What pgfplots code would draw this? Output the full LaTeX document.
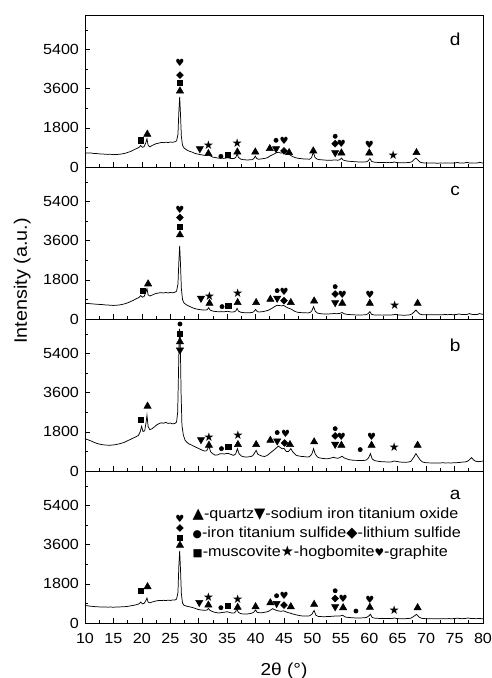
\documentclass[border=0pt]{standalone}
\usepackage{fontspec}
\setmainfont{Liberation Sans}[FakeStretch=1.1]
\newfontfamily\sym{DejaVu Sans}
\usepackage{pgfplots}
\pgfplotsset{compat=1.18}

\pgfplotsset{
  panel/.style={
    scale only axis, width=298.5pt, height=114pt,
    xmin=10, xmax=80, ymin=0, ymax=7000,
    xtick={10,15,...,80}, minor xtick={12.5,17.5,...,77.5},
    ytick={0,1800,3600,5400}, minor ytick={900,2700,4500,6300},
    tick align=inside, xtick pos=bottom, ytick pos=left,
    major tick length=4pt, minor tick length=2.5pt,
    every tick/.style={black, line width=0.5pt},
    axis line style={line width=0.6pt},
    /pgf/number format/assume math mode=true,
    /pgf/number format/1000 sep={},
    scaled y ticks=false,
    tick label style={font=\fontsize{11}{13}\selectfont},
    yticklabel style={xshift=-1pt},
    clip=false,
  },
  xrd/.style={black, line width=0.55pt, mark=none},
  qz/.style={only marks, black, mark=triangle*, mark size=3.1pt},
  so/.style={only marks, black, mark=triangle*, mark size=3.1pt, mark options={rotate=180}},
  fe/.style={only marks, black, mark=*, mark size=1.6pt},
  li/.style={only marks, black, mark=square*, mark size=1.8pt, mark options={rotate=45}},
  mu/.style={only marks, black, mark=square*, mark size=1.9pt},
  hg/.style={only marks, black, mark=text, text mark={\sym\fontsize{9}{9}\selectfont ★}},
  gr/.style={only marks, black, mark=text, text mark={\sym\fontsize{7.5}{7.5}\selectfont ♥}},
}

\begin{document}
\begin{tikzpicture}
\useasboundingbox (-63.75pt,-41.25pt) rectangle (305.25pt,467.25pt);

% ---------------- panel a ----------------
\begin{axis}[panel, at={(0pt,0pt)}, xticklabel style={yshift=-4pt}]
\addplot[xrd] coordinates {
(10,810)(10.5,790)(11,772)(11.5,760)(12,748)(12.5,742)(13,738)(13.5,735)(14,730)(14.5,734)
(15,728)(15.5,735)(16,740)(16.5,745)(17,752)(17.5,765)(18,790)(18.5,810)(19,840)(19.5,880)
(19.8,965)(20.1,880)(20.4,905)(20.7,1030)(20.9,1150)(21.1,960)(21.4,930)(21.8,965)(22.2,995)
(22.6,1020)(23,1040)(23.4,1030)(23.8,1045)(24.2,1035)(24.6,1050)(25,1040)(25.4,1060)(25.8,1055)
(26.1,1100)(26.35,1400)(26.5,2600)(26.65,3320)(26.8,2450)(26.95,1350)(27.15,920)(27.4,820)
(27.7,790)(28,765)(28.4,745)(28.8,720)(29.2,690)(29.6,650)(30,620)(30.4,600)(30.8,590)
(31.2,585)(31.5,600)(31.7,670)(31.95,590)(32.3,540)(32.7,500)(33.1,480)(33.5,460)(33.9,475)
(34.3,490)(34.7,505)(35,520)(35.4,490)(35.8,460)(36.2,460)(36.5,520)(36.7,670)(36.95,500)
(37.3,440)(37.7,420)(38.1,410)(38.5,415)(38.9,430)(39.3,450)(39.7,500)(40,600)(40.3,490)
(40.7,470)(41.1,470)(41.5,490)(41.9,510)(42.3,540)(42.7,610)(43,660)(43.3,620)(43.7,580)
(44.1,550)(44.5,540)(44.9,560)(45.3,520)(45.7,480)(46.1,455)(46.5,420)(47,385)(47.5,355)
(48,330)(48.5,322)(49,320)(49.5,330)(49.9,400)(50.3,580)(50.6,360)(51,305)(51.5,295)(52,290)
(52.5,295)(53,300)(53.5,310)(54,320)(54.5,318)(55,330)(55.3,360)(55.7,285)(56.1,262)(56.6,250)
(57.1,240)(57.6,232)(58.1,230)(58.6,235)(59.1,240)(59.5,255)(59.9,320)(60.2,400)(60.5,260)
(60.9,225)(61.4,215)(61.9,210)(62.4,212)(62.9,205)(63.4,210)(63.9,200)(64.4,230)(64.8,205)
(65.3,200)(65.8,198)(66.3,200)(66.8,205)(67.3,220)(67.8,300)(68.3,400)(68.7,285)(69.1,225)
(69.5,205)(70,200)(70.5,198)(71,202)(71.5,198)(72,200)(72.5,196)(73,202)(73.5,198)(74,203)
(74.5,199)(75,205)(75.5,225)(75.9,205)(76.4,200)(76.9,210)(77.4,230)(77.8,210)(78.3,205)
(78.8,200)(79.3,205)(79.8,200)(80,200)};
\addplot[qz] coordinates {(21.0,1670)(26.7,3580)(31.7,826)(36.85,720)(40.0,750)(42.6,933)(46.2,750)(50.3,857)(55.4,705)(60.1,720)(68.5,705)};
\addplot[mu] coordinates {(19.85,1470)(26.7,3920)(35.1,780)};
\addplot[li] coordinates {(26.7,4375)(45.0,826)(54.0,1130)};
\addplot[gr] coordinates {(26.7,4800)(45.0,1255)(55.4,1130)(60.1,1055)};
\addplot[so] coordinates {(30.1,950)(43.7,900)(54.0,750)};
\addplot[fe] coordinates {(33.9,705)(43.7,1255)(54.0,1485)(57.65,550)};
\addplot[hg] coordinates {(31.7,1180)(36.85,1100)(64.4,600)};
\node[font=\fontsize{13}{15}\selectfont] at (rel axis cs:0.93,0.84) {a};
\node[anchor=west, inner sep=0pt, font=\fontsize{11}{13}\selectfont] at (rel axis cs:0.27,0.71)
  {{\sym ▲}-quartz{\sym ▼}-sodium iron titanium oxide};
\node[anchor=west, inner sep=0pt, font=\fontsize{11}{13}\selectfont] at (rel axis cs:0.27,0.59)
  {{\sym\fontsize{8}{8}\selectfont ●}-iron titanium sulfide{\sym ◆}-lithium sulfide};
\node[anchor=west, inner sep=0pt, font=\fontsize{11}{13}\selectfont] at (rel axis cs:0.27,0.46)
  {{\sym\fontsize{8}{8}\selectfont ■}-muscovite{\sym ★}-hogbomite{\sym\fontsize{8}{8}\selectfont ♥}-graphite};
\end{axis}

% ---------------- panel b ----------------
\begin{axis}[panel, at={(0pt,114pt)}, xticklabels={}]
\addplot[xrd] coordinates {
(10,1490)(10.5,1440)(11,1390)(11.5,1330)(12,1280)(12.5,1240)(13,1215)(13.5,1195)(14,1190)
(14.5,1188)(15,1200)(15.5,1220)(16,1250)(16.5,1285)(17,1330)(17.5,1395)(18,1455)(18.5,1520)
(19,1580)(19.4,1640)(19.7,1800)(19.95,2060)(20.2,1820)(20.5,1850)(20.75,2250)(20.9,2570)
(21.1,2050)(21.4,1900)(21.8,1950)(22.2,2030)(22.6,2120)(23,2180)(23.4,2220)(23.8,2200)
(24.2,2240)(24.6,2190)(25,2210)(25.4,2170)(25.8,2190)(26.1,2250)(26.3,2700)(26.45,4600)
(26.6,6550)(26.75,6100)(26.9,3600)(27.05,2100)(27.3,1650)(27.6,1420)(27.9,1330)(28.2,1260)
(28.6,1210)(29,1160)(29.4,1110)(29.8,1060)(30.2,1010)(30.6,960)(31,920)(31.4,930)(31.8,1140)
(32.1,880)(32.5,790)(32.9,730)(33.3,740)(33.7,790)(34.1,800)(34.5,780)(34.9,810)(35.3,800)
(35.7,760)(36.1,720)(36.5,780)(36.8,1030)(37.1,790)(37.5,690)(37.9,655)(38.3,645)(38.7,650)
(39.1,665)(39.5,700)(39.8,820)(40.1,950)(40.4,770)(40.8,720)(41.2,680)(41.6,670)(42,710)
(42.4,790)(42.8,880)(43.2,960)(43.6,1050)(44,1150)(44.3,1090)(44.7,1020)(45,1040)(45.4,900)
(45.8,900)(46.2,1030)(46.6,860)(47.1,730)(47.6,690)(48.1,670)(48.6,660)(49.1,645)(49.5,660)
(49.9,780)(50.2,1030)(50.5,780)(50.9,640)(51.3,600)(51.8,580)(52.3,565)(52.8,570)(53.3,600)
(53.7,630)(54.1,600)(54.5,585)(54.9,630)(55.2,680)(55.6,600)(56,560)(56.5,520)(57,500)
(57.5,490)(58,488)(58.5,482)(59,480)(59.5,510)(59.9,620)(60.2,800)(60.5,560)(60.9,480)
(61.4,455)(61.9,435)(62.4,425)(62.9,420)(63.4,412)(63.9,420)(64.4,460)(64.8,440)(65.3,415)
(65.8,405)(66.3,400)(66.8,410)(67.3,440)(67.8,620)(68.2,800)(68.6,640)(69,490)(69.4,410)
(69.9,385)(70.4,375)(70.9,372)(71.4,368)(71.9,372)(72.4,370)(72.9,378)(73.4,372)(73.9,375)
(74.4,370)(74.9,380)(75.4,385)(75.9,395)(76.4,410)(76.9,420)(77.3,450)(77.7,540)(78,615)
(78.3,520)(78.7,450)(79.2,430)(79.7,445)(80,460)};
\addplot[qz] coordinates {(21.0,2985)(26.7,5950)(31.8,1185)(36.9,1215)(40.1,1215)(42.6,1415)(46.05,1215)(50.3,1340)(55.1,1185)(60.4,1185)(68.5,1185)};
\addplot[mu] coordinates {(19.85,2340)(26.7,6305)(35.2,1107)};
\addplot[li] coordinates {(45.1,1290)(54.0,1615)};
\addplot[gr] coordinates {(45.3,1720)(55.1,1570)(60.4,1570)};
\addplot[so] coordinates {(26.7,5570)(30.4,1445)(43.8,1385)(54.0,1230)};
\addplot[fe] coordinates {(26.7,6770)(34.0,1030)(43.8,1770)(54.0,1950)(58.4,985)};
\addplot[hg] coordinates {(31.8,1570)(36.9,1660)(64.4,1077)};
\node[font=\fontsize{13}{15}\selectfont] at (rel axis cs:0.93,0.83) {b};
\end{axis}

% ---------------- panel c ----------------
\begin{axis}[panel, at={(0pt,228pt)}, xticklabels={}]
\addplot[xrd] coordinates {
(10,720)(10.5,712)(11,705)(11.5,690)(12,682)(12.5,672)(13,665)(13.5,650)(14,645)(14.5,632)
(15,625)(15.5,632)(16,645)(16.5,668)(17,700)(17.5,745)(18,800)(18.5,860)(19,930)(19.5,990)
(19.8,1080)(20.1,1005)(20.4,1040)(20.7,1230)(20.9,1400)(21.1,1110)(21.4,1060)(21.8,1100)
(22.2,1150)(22.6,1180)(23,1200)(23.4,1215)(23.8,1195)(24.2,1220)(24.6,1200)(25,1225)
(25.4,1205)(25.8,1230)(26.1,1280)(26.35,1600)(26.5,2600)(26.65,3370)(26.8,2500)(26.95,1400)
(27.15,900)(27.4,740)(27.7,680)(28,630)(28.4,580)(28.8,530)(29.2,490)(29.6,460)(30,440)
(30.4,425)(30.8,415)(31.2,410)(31.5,430)(31.75,520)(32,410)(32.4,370)(32.8,350)(33.2,340)
(33.6,335)(34,340)(34.4,330)(34.8,345)(35.1,355)(35.5,330)(35.9,320)(36.3,335)(36.55,380)
(36.75,490)(37,360)(37.4,310)(37.8,295)(38.2,290)(38.6,285)(39,290)(39.4,300)(39.7,340)
(40,440)(40.3,340)(40.6,325)(41,330)(41.4,345)(41.8,370)(42.2,400)(42.6,450)(43,510)(43.4,580)
(43.8,630)(44.2,620)(44.6,600)(44.9,630)(45.2,580)(45.6,520)(46,480)(46.3,450)(46.7,380)
(47.2,320)(47.7,300)(48.2,290)(48.7,285)(49.2,280)(49.6,300)(49.9,380)(50.2,570)(50.5,360)
(50.9,270)(51.3,250)(51.8,235)(52.3,230)(52.8,232)(53.3,240)(53.8,250)(54.3,245)(54.8,255)
(55.2,300)(55.6,240)(56,215)(56.5,205)(57,195)(57.5,190)(58,185)(58.5,188)(59,190)(59.5,200)
(59.85,260)(60.1,340)(60.4,215)(60.8,190)(61.3,182)(61.8,180)(62.3,178)(62.8,185)(63.3,180)
(63.8,182)(64.3,200)(64.6,215)(65,190)(65.5,180)(66,175)(66.5,178)(67,185)(67.5,230)
(67.9,330)(68.2,410)(68.5,320)(68.9,225)(69.3,200)(69.8,190)(70.3,195)(70.8,190)(71.3,200)
(71.8,195)(72.3,200)(72.8,195)(73.3,205)(73.8,200)(74.3,205)(74.8,198)(75.3,205)(75.8,230)
(76.2,210)(76.7,205)(77.2,210)(77.6,250)(78,215)(78.5,205)(79,210)(79.4,250)(79.8,220)(80,215)};
\addplot[qz] coordinates {(21.1,1615)(26.7,3875)(31.9,720)(36.85,755)(40.1,755)(42.6,905)(46.2,755)(50.3,830)(55.25,720)(60.1,720)(68.5,720)};
\addplot[mu] coordinates {(20.1,1307)(26.7,4230)(35.2,630)};
\addplot[li] coordinates {(26.7,4675)(45.0,845)(54.0,1150)};
\addplot[gr] coordinates {(26.7,5030)(45.0,1230)(55.25,1105)(60.1,1105)};
\addplot[so] coordinates {(30.4,955)(43.8,955)(54.0,755)};
\addplot[fe] coordinates {(34.1,570)(43.8,1307)(54.0,1490)};
\addplot[hg] coordinates {(31.9,1060)(36.85,1185)(64.5,615)};
\node[font=\fontsize{13}{15}\selectfont] at (rel axis cs:0.93,0.84) {c};
\end{axis}

% ---------------- panel d ----------------
\begin{axis}[panel, at={(0pt,342pt)}, xticklabels={}]
\addplot[xrd] coordinates {
(10,655)(10.5,640)(11,648)(11.5,625)(12,618)(12.5,605)(13,598)(13.5,590)(14,580)(14.5,585)
(15,568)(15.5,575)(16,585)(16.5,602)(17,628)(17.5,668)(18,715)(18.5,775)(19,840)(19.5,905)
(19.8,990)(20.1,905)(20.4,940)(20.7,1120)(20.9,1300)(21.1,1000)(21.4,930)(21.8,990)(22.2,1040)
(22.6,1080)(23,1100)(23.4,1130)(23.8,1120)(24.2,1145)(24.6,1125)(25,1150)(25.4,1135)(25.8,1160)
(26.1,1200)(26.35,1500)(26.5,2500)(26.65,3230)(26.8,2400)(26.95,1400)(27.15,1000)(27.4,880)
(27.7,820)(28,770)(28.4,720)(28.8,690)(29.2,640)(29.6,610)(30,585)(30.4,565)(30.8,545)
(31.2,530)(31.5,540)(31.75,620)(32,520)(32.4,460)(32.8,440)(33.2,420)(33.6,405)(34,420)
(34.4,395)(34.8,410)(35.1,430)(35.5,400)(35.9,385)(36.3,400)(36.55,450)(36.75,610)(37,440)
(37.4,360)(37.8,340)(38.2,330)(38.6,320)(39,335)(39.4,340)(39.7,390)(39.95,500)(40.2,390)
(40.5,360)(40.9,365)(41.3,385)(41.7,400)(42.1,430)(42.5,500)(42.8,540)(43.2,590)(43.6,650)
(44,680)(44.3,650)(44.6,640)(44.9,690)(45.2,650)(45.6,600)(45.9,580)(46.2,530)(46.6,470)
(47,430)(47.5,400)(48,385)(48.5,370)(49,365)(49.5,360)(49.85,430)(50.15,690)(50.45,440)
(50.8,365)(51.2,340)(51.6,330)(52,325)(52.5,310)(53,305)(53.5,315)(54,325)(54.5,310)
(54.85,340)(55.1,410)(55.4,320)(55.8,290)(56.2,270)(56.6,260)(57,255)(57.5,240)(58,235)
(58.5,232)(59,230)(59.5,238)(59.85,290)(60.1,390)(60.4,260)(60.8,225)(61.2,215)(61.6,210)
(62,212)(62.5,205)(63,215)(63.5,200)(64,205)(64.4,230)(64.8,205)(65.2,195)(65.6,190)(66,195)
(66.5,200)(67,205)(67.5,240)(67.9,350)(68.2,410)(68.5,330)(68.9,230)(69.3,195)(69.7,185)
(70,182)(70.5,178)(71,182)(71.5,180)(72,175)(72.5,180)(73,178)(73.5,185)(74,178)(74.5,182)
(75,180)(75.5,210)(75.8,190)(76.2,178)(76.7,185)(77.2,215)(77.5,190)(78,180)(78.5,178)
(79,185)(79.4,215)(79.8,190)(80,185)};
\addplot[qz] coordinates {(20.96,1510)(26.7,3500)(31.7,615)(36.8,690)(39.95,690)(42.5,845)(45.9,660)(50.15,740)(55.1,645)(60.0,645)(68.3,660)};
\addplot[mu] coordinates {(19.85,1230)(26.7,3875)(35.1,570)};
\addplot[li] coordinates {(26.7,4230)(45.0,740)(54.0,1075)};
\addplot[gr] coordinates {(26.7,4800)(45.0,1185)(55.1,1045)(60.0,1000)};
\addplot[so] coordinates {(30.2,845)(43.6,845)(54.0,660)};
\addplot[fe] coordinates {(33.9,490)(43.6,1230)(54.0,1415)};
\addplot[hg] coordinates {(31.7,1000)(36.8,1107)(64.2,540)};
\node[font=\fontsize{13}{15}\selectfont] at (rel axis cs:0.93,0.84) {d};
\end{axis}

\node[rotate=90, font=\fontsize{13.5}{15}\selectfont] at (-47pt,256.5pt) {Intensity (a.u.)};
\node[font=\fontsize{13}{15}\selectfont] at (149.25pt,-36pt) {2θ (°)};
\end{tikzpicture}
\end{document}
